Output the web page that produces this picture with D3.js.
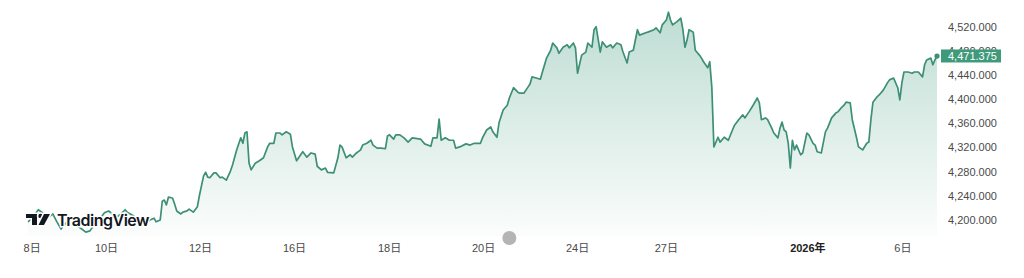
<!DOCTYPE html>
<html>
<head>
<meta charset="utf-8">
<script src="https://cdn.jsdelivr.net/npm/d3@7"></script>
<style>
  html, body { margin: 0; padding: 0; background: #ffffff; }
  svg { display: block; }
</style>
</head>
<body>
<svg id="chart" width="1024" height="278"></svg>
<script>
// ---- data (hourly bars since start, price) ----
const hours = [0,2,5,7,9,12,14,16,17,19,21,24,26,28,30,32,35,37,39,41,43,45,47,48,51,53,56,58,59,61,62,64,65,66,67,68,70,71,72,74,75,77,78,80,82,83,85,86,87,88,90,91,93,94,96,98,99,101,103,104,105,106,107,108,110,112,114,116,117,119,120,122,123,125,127,128,130,132,133,135,137,139,140,142,144,145,148,150,151,152,154,156,157,159,161,162,164,166,167,169,171,173,174,175,177,178,180,182,184,186,190,192,195,196,198,199,200,202,204,206,207,209,212,214,216,219,220,222,224,225,227,228,230,232,233,235,237,238,240,242,243,244,246,248,249,251,253,254,256,257,259,261,262,264,265,266,268,270,271,273,274,275,277,278,280,282,283,285,287,288,290,291,293,295,296,299,300,303,304,306,307,309,310,311,312,314,316,317,318,319,320,322,323,325,326,327,329,330,331,332,334,335,337,339,341,342,344,346,347,348,349,351,353,354,355,357,358,360,361,363,364,365,366,367,368,369,370,371,372,374,375,377,378,380,381,382,384,386,387,389,391,392,394,395,396,398,399,401,402,404,406,407,408,409,411,412,414,416,417,419,421,422,423,424,426,428,429,431,433,434,435,437,438,439,440];
const prices = [4197,4203,4217,4212,4203,4210,4197,4185,4190,4197,4193,4190,4185,4180,4182,4192,4203,4212,4215,4210,4205,4210,4217,4213,4207,4202,4198,4197,4200,4203,4197,4200,4231,4233,4225,4238,4236,4226,4215,4210,4213,4215,4218,4213,4222,4241,4273,4279,4271,4270,4278,4278,4270,4271,4266,4281,4291,4316,4336,4327,4344,4346,4294,4283,4294,4298,4303,4321,4327,4327,4344,4344,4341,4346,4342,4321,4298,4308,4313,4304,4311,4309,4289,4283,4286,4279,4278,4303,4324,4321,4303,4308,4304,4311,4316,4324,4327,4332,4324,4319,4319,4318,4339,4341,4334,4341,4341,4336,4329,4336,4334,4326,4322,4336,4336,4367,4332,4336,4332,4332,4319,4321,4326,4324,4327,4327,4336,4349,4354,4346,4337,4361,4382,4390,4402,4419,4412,4410,4410,4420,4425,4437,4435,4433,4445,4468,4481,4493,4485,4476,4486,4490,4485,4493,4485,4443,4473,4478,4493,4486,4515,4520,4478,4495,4486,4490,4485,4493,4490,4478,4460,4478,4481,4515,4506,4510,4511,4515,4518,4510,4523,4531,4544,4531,4523,4528,4534,4515,4486,4498,4515,4511,4481,4473,4468,4462,4452,4462,4420,4321,4337,4329,4337,4332,4349,4357,4366,4374,4369,4374,4379,4390,4402,4394,4366,4369,4366,4352,4344,4336,4352,4362,4349,4346,4327,4286,4332,4316,4324,4308,4311,4344,4341,4327,4324,4313,4311,4346,4352,4369,4377,4379,4387,4390,4395,4394,4366,4337,4321,4316,4327,4329,4366,4395,4404,4407,4415,4427,4432,4435,4419,4399,4427,4445,4445,4443,4445,4445,4437,4457,4465,4468,4457,4465,4471.375];
const priceTicks = [4200,4240,4280,4320,4360,4400,4440,4480,4520];
const timeTickHours = [2,38,83.5,129,175,220.5,266,309,377.5,423.5];
const timeTickLabels = ["8日","10日","12日","16日","18日","20日","24日","27日","2026年","6日"];
const yearLabel = "2026年";
const lastPrice = 4471.375;
const markerHour = 233;

// ---- layout ----
const svg = d3.select("#chart");
const lineColor = "#3d8f75";
const x = d3.scaleLinear().domain([0, 440]).range([28, 937]);
const y = d3.scaleLinear().domain([4200, 4520]).range([220, 26.7]);
const plotBottom = 236;

const data = hours.map((h, i) => ({h, p: prices[i]}));

// gradient
const defs = svg.append("defs");
const grad = defs.append("linearGradient").attr("id", "fillGrad")
  .attr("gradientUnits", "userSpaceOnUse")
  .attr("x1", 0).attr("y1", y(4544)).attr("x2", 0).attr("y2", plotBottom);
grad.append("stop").attr("offset", "0%").attr("stop-color", "#3f9a7e").attr("stop-opacity", 0.34);
grad.append("stop").attr("offset", "100%").attr("stop-color", "#3f9a7e").attr("stop-opacity", 0.02);

svg.append("path").datum(data)
  .attr("fill", "url(#fillGrad)")
  .attr("d", d3.area().x(d => x(d.h)).y0(plotBottom).y1(d => y(d.p)));

svg.append("path").datum(data)
  .attr("fill", "none")
  .attr("stroke", lineColor)
  .attr("stroke-width", 1.7)
  .attr("stroke-linejoin", "round")
  .attr("d", d3.line().x(d => x(d.h)).y(d => y(d.p)));

// end dot
svg.append("circle").attr("cx", x(hours[hours.length - 1])).attr("cy", y(lastPrice))
  .attr("r", 2.6).attr("fill", lineColor);

// right price axis
const yAxis = svg.append("g").attr("class", "y-axis");
yAxis.selectAll("text").data(priceTicks).join("text")
  .attr("x", 948).attr("y", d => y(d)).attr("dy", "0.36em")
  .attr("font-family", "'Liberation Sans', Arial, sans-serif")
  .attr("font-size", 11).attr("fill", "#4a4a4a")
  .text(d => d3.format(",.3f")(d));

// last price label (drawn over the partly hidden 4,480 tick, as in the reference)
const lp = svg.append("g");
lp.append("rect").attr("x", 941).attr("y", y(lastPrice) - 6.6)
  .attr("width", 60).attr("height", 13).attr("fill", "#3f9a7b");
lp.append("text").attr("x", 948).attr("y", y(lastPrice)).attr("dy", "0.36em")
  .attr("font-family", "'Liberation Sans', Arial, sans-serif")
  .attr("font-size", 11).attr("fill", "#ffffff")
  .text(d3.format(",.3f")(lastPrice));

// bottom time axis
svg.append("g").selectAll("text").data(timeTickHours).join("text")
  .attr("x", d => x(d)).attr("y", 252)
  .attr("text-anchor", "middle")
  .attr("font-family", "'Liberation Sans', 'Noto Sans CJK JP', sans-serif")
  .attr("font-size", 11)
  .attr("font-weight", (d, i) => timeTickLabels[i] === yearLabel ? "bold" : "normal")
  .attr("fill", (d, i) => timeTickLabels[i] === yearLabel ? "#222222" : "#4a4a4a")
  .text((d, i) => timeTickLabels[i]);

// grey marker
svg.append("circle").attr("cx", x(markerHour)).attr("cy", 238).attr("r", 7).attr("fill", "#b4b4b4");

// TradingView logo
const logo = svg.append("g").attr("transform", "translate(26,213)");
const iconFill = "#131722";
logo.append("path").attr("d", "M0,1 H11 V12 H6 V5 H0 Z").attr("fill", iconFill)
  .attr("stroke", "#fff").attr("stroke-width", 3).attr("paint-order", "stroke");
logo.append("circle").attr("cx", 14.5).attr("cy", 3).attr("r", 2.2).attr("fill", iconFill)
  .attr("stroke", "#fff").attr("stroke-width", 3).attr("paint-order", "stroke");
logo.append("path").attr("d", "M18,1 H24 L18,12 H12.5 Z").attr("fill", iconFill)
  .attr("stroke", "#fff").attr("stroke-width", 3).attr("paint-order", "stroke");
logo.append("text").attr("x", 31).attr("y", 12.5)
  .attr("font-family", "Inter, 'Open Sans', sans-serif")
  .attr("font-size", 16).attr("font-weight", 600)
  .attr("fill", iconFill)
  .attr("stroke", "#ffffff").attr("stroke-width", 3).attr("paint-order", "stroke")
  .attr("letter-spacing", -0.5)
  .text("TradingView");
</script>
</body>
</html>
